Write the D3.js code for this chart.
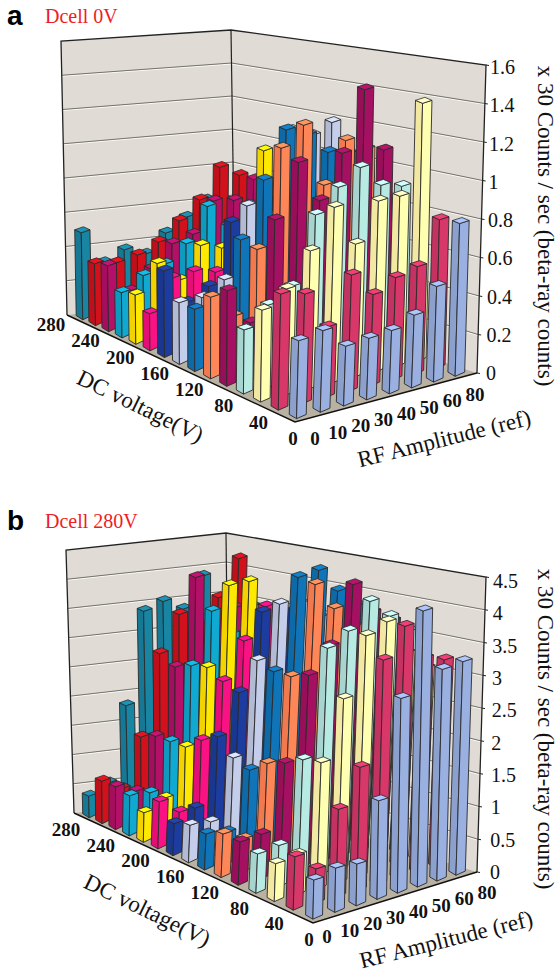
<!DOCTYPE html>
<html lang="en">
<head>
  <meta charset="UTF-8">
  <title>Beta-ray counts vs DC voltage and RF amplitude</title>
  <script src="https://d3js.org/d3.v7.min.js"></script>
  <style>
    body { margin: 0; background: #fff; }
    svg { display: block; }
    text { font-family: "Liberation Serif", serif; fill: #111; }
    .tick-bold { font-weight: bold; font-size: 19px; }
    .tick-z { font-size: 20px; }
    .axis-title { font-size: 23px; }
  </style>
</head>
<body>
  <svg id="chart" width="557" height="976"></svg>

  <script>
    const dcValues = [280, 260, 240, 220, 200, 180, 160, 140, 120, 100, 80, 60, 40, 20, 0];
    const rfValues = ["0", "10", "20", "30", "40", "50", "60", "80"];
    const dcTicks = ["280", "240", "200", "160", "120", "80", "40", "0"];
    const rowColors = ["#177f9c", "#c9101c", "#ad0f63", "#0ea2c8", "#ffdf00", "#f0107e", "#1b3a98",
      "#bcc4e0", "#0f6fb0", "#ff8052", "#9f0f5e", "#b0e0da", "#fff5ab", "#cf3566", "#93a9d8"];

    // one row per DC voltage, one value per RF amplitude
    const countsA = [
      [0.50, 0.30, 0.35, 0.30, 0.40, 0.47, 0.55, 0.52],
      [0.35, 0.33, 0.35, 0.40, 0.50, 0.60, 0.77, 0.70],
      [0.37, 0.20, 0.30, 0.42, 0.45, 0.62, 0.60, 0.70],
      [0.25, 0.32, 0.36, 0.45, 0.64, 0.50, 0.60, 0.60],
      [0.27, 0.42, 0.30, 0.47, 0.43, 0.30, 0.94, 0.88],
      [0.20, 0.37, 0.38, 0.35, 0.50, 0.55, 0.60, 0.60],
      [0.47, 0.27, 0.33, 0.66, 0.60, 0.70, 0.70, 0.70],
      [0.33, 0.33, 0.40, 0.78, 0.70, 1.15, 1.10, 1.15],
      [0.33, 0.30, 0.65, 0.95, 1.20, 1.15, 1.03, 1.00],
      [0.43, 0.30, 0.63, 1.15, 1.25, 0.90, 1.12, 1.05],
      [0.50, 0.30, 0.82, 1.10, 0.87, 1.10, 1.42, 1.07],
      [0.33, 0.43, 0.50, 0.85, 0.97, 1.05, 0.93, 0.90],
      [0.47, 0.55, 0.72, 0.92, 0.70, 0.90, 0.90, 1.37],
      [0.59, 0.56, 0.36, 0.60, 0.47, 0.53, 0.56, 0.78],
      [0.39, 0.41, 0.30, 0.31, 0.32, 0.37, 0.49, 0.79]
    ];
    const countsB = [
      [0.35, 0.50, 1.75, 3.30, 3.40, 3.20, 3.70, 3.20],
      [0.70, 0.50, 1.30, 2.65, 3.25, 3.00, 3.40, 4.00],
      [0.70, 0.55, 1.40, 2.50, 3.95, 3.10, 3.30, 3.20],
      [0.65, 0.62, 1.40, 2.60, 3.45, 3.00, 3.40, 3.20],
      [0.47, 0.63, 1.40, 2.65, 3.95, 3.95, 3.30, 3.20],
      [0.75, 0.50, 1.60, 2.50, 3.10, 3.60, 3.30, 3.20],
      [0.50, 0.67, 1.75, 2.40, 3.65, 3.60, 3.50, 3.30],
      [0.58, 0.55, 1.50, 3.00, 3.85, 3.80, 3.50, 3.30],
      [0.55, 0.50, 1.40, 2.90, 4.35, 4.40, 4.00, 3.70],
      [0.66, 0.50, 1.60, 2.90, 4.30, 3.85, 3.50, 3.00],
      [0.65, 0.68, 1.70, 3.00, 3.40, 4.30, 3.80, 3.60],
      [0.58, 0.62, 1.85, 3.50, 3.70, 4.10, 3.80, 3.50],
      [0.55, 0.60, 1.90, 2.80, 3.70, 3.85, 3.30, 3.00],
      [0.77, 0.50, 1.30, 1.85, 3.40, 3.85, 3.30, 3.20],
      [0.55, 0.63, 0.60, 1.45, 2.90, 4.15, 3.20, 3.25]
    ];

    const zTicksA = [0, 0.2, 0.4, 0.6, 0.8, 1, 1.2, 1.4, 1.6];
    const zTicksB = [0, 0.5, 1, 1.5, 2, 2.5, 3, 3.5, 4, 4.5];

    const svg = d3.select("#chart");

    const uScale = d3.scaleBand().domain(dcValues).range([0, 1]);
    const vScale = d3.scaleBand().domain(rfValues).range([0, 1]);

    // unit square -> quad [(0,0), (1,0), (1,1), (0,1)]
    function quadMap(q) {
      const [[x0, y0], [x1, y1], [x2, y2], [x3, y3]] = q;
      const dx1 = x1 - x2, dx2 = x3 - x2, sx = x0 - x1 + x2 - x3;
      const dy1 = y1 - y2, dy2 = y3 - y2, sy = y0 - y1 + y2 - y3;
      const den = dx1 * dy2 - dx2 * dy1;
      const g = (sx * dy2 - dx2 * sy) / den;
      const h = (dx1 * sy - sx * dy1) / den;
      const a = x1 - x0 + g * x1, b = x3 - x0 + h * x3;
      const d = y1 - y0 + g * y1, e = y3 - y0 + h * y3;
      return (u, v) => {
        const w = g * u + h * v + 1;
        return [(a * u + b * v + x0) / w, (d * u + e * v + y0) / w];
      };
    }

    function drawPanel(cfg) {
      const g = svg.append("g");
      const zScale = d3.scaleLinear().domain([0, cfg.zTicks[cfg.zTicks.length - 1]]).range([0, 1]);
      const projector = (floorQuad, topQuad) => {
        const floor = quadMap(floorQuad), top = quadMap(topQuad);
        return (u, v, z) => {
          const a = floor(u, v), b = top(u, v), t = zScale(z);
          return [a[0] + (b[0] - a[0]) * t, a[1] + (b[1] - a[1]) * t];
        };
      };
      const project = projector(cfg.floor, cfg.top);
      // the bars sit on a slightly flatter grid than the walls imply
      const projectBar = projector(cfg.barFloor, cfg.barTop);
      const line = d3.line();
      const zMax = zScale.domain()[1];
      const poly = (pts, fill, stroke, w) => g.append("path").attr("d", line(pts) + "Z")
        .attr("fill", fill).attr("stroke", stroke).attr("stroke-width", w).attr("stroke-linejoin", "round");

      // walls and floor
      poly([project(0, 0, 0), project(0, 1, 0), project(0, 1, zMax), project(0, 0, zMax)], "#e0dcd5", "none", 0);
      poly([project(0, 1, 0), project(1, 1, 0), project(1, 1, zMax), project(0, 1, zMax)], "#e0dcd5", "none", 0);
      poly([project(0, 0, 0), project(1, 0, 0), project(1, 1, 0), project(0, 1, 0)], "#b9b1a2", "none", 0);

      // grid lines on the walls
      cfg.zTicks.slice(1, -1).forEach(z => {
        [[1, "#fbfaf7", 1], [0, "#74726d", 1]].forEach(([dy, col, w]) => {
          g.append("path")
            .attr("d", line([project(0, 0, z), project(0, 1, z), project(1, 1, z)].map(p => [p[0], p[1] + dy])))
            .attr("fill", "none").attr("stroke", col).attr("stroke-width", w);
        });
      });

      // wall outlines
      g.append("path").attr("d", line([project(0, 0, 0), project(0, 0, zMax), project(0, 1, zMax), project(1, 1, zMax), project(1, 1, 0)]))
        .attr("fill", "none").attr("stroke", "#222").attr("stroke-width", 1.3);
      g.append("path").attr("d", line([project(0, 1, zMax), project(0, 1, 0)]))
        .attr("stroke", "#222").attr("stroke-width", 1.2);
      g.append("path").attr("d", line([project(0, 0, 0), project(1, 0, 0), project(1, 1, 0)]))
        .attr("fill", "none").attr("stroke", "#111").attr("stroke-width", 1.4);

      // z ticks
      cfg.zTicks.forEach(z => {
        const p = project(1, 1, z);
        g.append("line").attr("x1", p[0]).attr("y1", p[1]).attr("x2", p[0] + 3).attr("y2", p[1] + 0.5)
          .attr("stroke", "#222");
      });

      // bars, back to front. The footprint is a flat diamond in screen space,
      // the reference does not foreshorten it with the floor.
      const du = uScale.bandwidth(), dv = vScale.bandwidth();
      dcValues.forEach((dc, i) => {
        const col = d3.color(rowColors[i]);
        rfValues.slice().reverse().forEach(rf => {
          const val = cfg.counts[i][rfValues.indexOf(rf)];
          const uc = uScale(dc) + du / 2, vc = vScale(rf) + dv / 2;
          const b = projectBar(uc, vc, 0), t = projectBar(uc, vc, val);
          const span = projectBar(uc + du / 2, vc + dv / 2, 0)[0] - projectBar(uc - du / 2, vc - dv / 2, 0)[0];
          const w = 0.2 * span + 8.5;
          const foot = (c, d) => ({
            l: [c[0] - w / 2, c[1]],
            f: [c[0] - 0.07 * w, c[1] + d],
            r: [c[0] + w / 2, c[1]],
            k: [c[0] + 0.07 * w, c[1] - d]
          });
          const fb = foot(b, 4.2), ft = foot(t, 3);
          poly([fb.l, fb.f, ft.f, ft.l], col.darker(0.15).formatHex(), "#2a2a2a", 0.9);
          poly([fb.f, fb.r, ft.r, ft.f], col.brighter(0.12).formatHex(), "#2a2a2a", 0.9);
          poly([ft.l, ft.f, ft.r, ft.k], col.brighter(0.45).formatHex(), "#2a2a2a", 0.8);
        });
      });

      // tick labels
      const dcX = d3.scalePoint().domain(dcTicks).range(cfg.dcLabelX);
      const dcY = d3.scalePoint().domain(dcTicks).range(cfg.dcLabelY);
      const rfX = d3.scalePoint().domain(rfValues).range(cfg.rfLabelX);
      const rfY = d3.scalePoint().domain(rfValues).range(cfg.rfLabelY);
      dcTicks.forEach(t => g.append("text").attr("class", "tick-bold").attr("text-anchor", "middle")
        .attr("x", dcX(t)).attr("y", dcY(t) + 6).text(t));
      rfValues.forEach(t => g.append("text").attr("class", "tick-bold").attr("text-anchor", "middle")
        .attr("x", rfX(t)).attr("y", rfY(t) + 6).text(t));

      const zY = d3.scaleLinear().domain(zScale.domain()).range(cfg.zLabelY);
      const zX = d3.scaleLinear().domain(zScale.domain()).range(cfg.zLabelX);
      cfg.zTicks.forEach(z => g.append("text").attr("class", "tick-z").attr("x", zX(z)).attr("y", zY(z) + 7).text(z));

      // titles
      g.append("text").attr("class", "axis-title").attr("text-anchor", "middle")
        .attr("transform", `translate(${cfg.dcTitle[0]},${cfg.dcTitle[1]}) rotate(26)`).text("DC voltage(V)");
      g.append("text").attr("class", "axis-title").attr("text-anchor", "middle")
        .attr("transform", `translate(${cfg.rfTitle[0]},${cfg.rfTitle[1]}) rotate(-14)`).text("RF Amplitude (ref)");
      g.append("text").attr("class", "axis-title").attr("text-anchor", "middle")
        .attr("transform", `translate(${cfg.zTitle[0]},${cfg.zTitle[1]}) rotate(90)`).text("x 30 Counts / sec (beta-ray counts)");

      g.append("text").attr("x", 7).attr("y", cfg.titleY + 1).style("font-family", "'Liberation Sans', sans-serif")
        .style("font-weight", "bold").style("font-size", "28px").style("fill", "#000").text(cfg.letter);
      g.append("text").attr("x", 45).attr("y", cfg.titleY - 1).style("font-size", "20px").style("fill", "#ee1c25").text(cfg.name);
    }

    drawPanel({
      letter: "a", name: "Dcell 0V", titleY: 24,
      counts: countsA, zTicks: zTicksA,
      floor: [[67, 315], [295, 422], [477, 373], [235, 294]],
      top: [[61, 41], [304, 105], [486, 65], [231, 30]],
      barFloor: [[67, 315], [295, 422], [477, 373], [228, 280]],
      barTop: [[61, 41], [304, 105], [486, 65], [231, 16]],
      dcLabelX: [51, 293], dcLabelY: [325, 439],
      rfLabelX: [315, 475], rfLabelY: [439, 395],
      zLabelX: [486, 490], zLabelY: [373, 67],
      dcTitle: [137, 413], rfTitle: [446, 446], zTitle: [538, 226]
    });

    drawPanel({
      letter: "b", name: "Dcell 280V", titleY: 529,
      counts: countsB, zTicks: zTicksB,
      floor: [[74, 813], [313, 923], [477, 872], [229, 794]],
      top: [[66, 550], [320, 608], [486, 577], [226, 533]],
      barFloor: [[74, 813], [313, 923], [477, 872], [222, 780]],
      barTop: [[66, 550], [320, 608], [486, 577], [225, 519]],
      dcLabelX: [66, 309], dcLabelY: [830, 940],
      rfLabelX: [327, 487], rfLabelY: [937, 893],
      zLabelX: [490, 493], zLabelY: [872, 581],
      dcTitle: [144, 917], rfTitle: [448, 947], zTitle: [538, 729]
    });
  </script>
</body>
</html>
